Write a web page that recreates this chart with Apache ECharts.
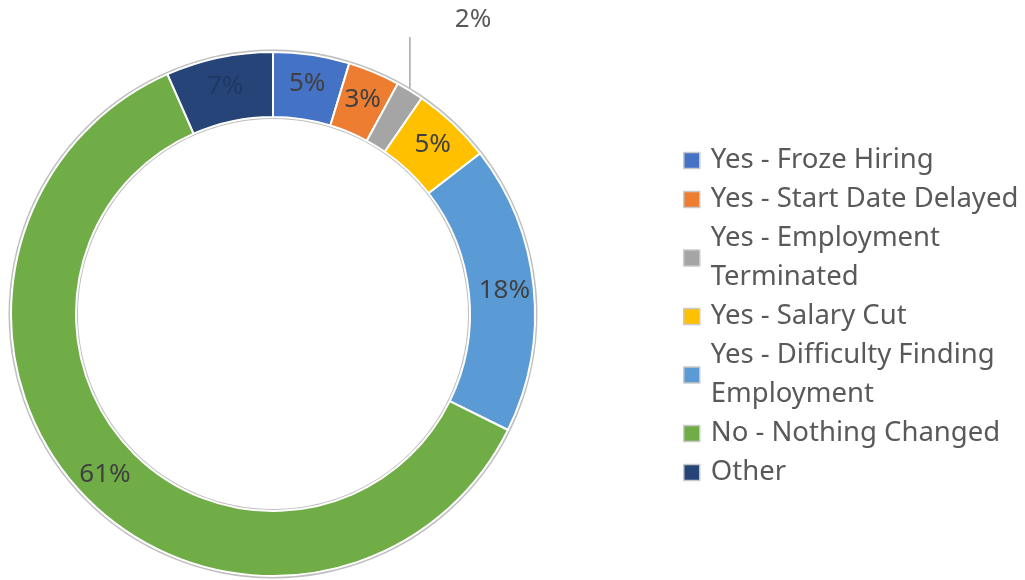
<!DOCTYPE html>
<html lang="en">
<head>
  <meta charset="UTF-8" />
  <title>Impact</title>
  <script src="https://cdn.jsdelivr.net/npm/echarts@6/dist/echarts.min.js"></script>
</head>
<body style="margin:0; background:#fff;">
  <div id="main" style="width:1025px; height:580px;"></div>
  <script type="text/javascript">
    // categories and shares (percent)
    const categories = [
      'Yes - Froze Hiring',
      'Yes - Start Date Delayed',
      'Yes - Employment Terminated',
      'Yes - Salary Cut',
      'Yes - Difficulty Finding Employment',
      'No - Nothing Changed',
      'Other'
    ];
    const shares = [4.7, 3.2, 1.7, 4.9, 17.8, 61.1, 6.6];
    const colors = ['#4472C4', '#ED7D31', '#A5A5A5', '#FFC000', '#5B9BD5', '#70AD47', '#264478'];
    // legend text with line breaks as in the picture
    const legendText = {
      'Yes - Employment Terminated': 'Yes - Employment\nTerminated',
      'Yes - Difficulty Finding Employment': 'Yes - Difficulty Finding\nEmployment'
    };

    const font = '"Noto Sans", "Open Sans", sans-serif';
    const chart = echarts.init(document.getElementById('main'));

    const data = categories.map(function (name, i) {
      const item = { name: name, value: shares[i], itemStyle: { color: colors[i] } };
      if (name === 'Other') item.label = { color: '#1f3864' };
      if (name === 'Yes - Employment Terminated') {
        item.label = { position: 'outside', color: '#595959' };
        item.labelLine = { show: true, lineStyle: { color: '#a6a6a6', width: 1.5 } };
      }
      return item;
    });

    chart.setOption({
      animation: false,
      color: colors,
      legend: {
        orient: 'vertical',
        left: 683,
        top: 141,
        padding: 0,
        itemGap: 0,
        itemWidth: 16,
        itemHeight: 16,
        icon: 'rect',
        itemStyle: { borderColor: '#c9c9c9', borderWidth: 1.5 },
        textStyle: {
          fontFamily: font,
          fontSize: 27.5,
          color: '#595959',
          lineHeight: 39,
          padding: [0, 0, 0, 6]
        },
        formatter: function (name) { return legendText[name] || name; },
        data: categories
      },
      series: [
        {
          // thin grey outline around the ring
          type: 'pie',
          silent: true,
          center: [273, 314],
          radius: [195, 264.5],
          label: { show: false },
          labelLine: { show: false },
          itemStyle: { color: '#bfbfbf' },
          data: [{ name: '_outline', value: 1 }],
          legendHoverLink: false
        },
        {
          type: 'pie',
          center: [273, 314],
          radius: [197, 262],
          startAngle: 90,
          clockwise: true,
          itemStyle: { borderColor: '#ffffff', borderWidth: 2 },
          label: {
            show: true,
            position: 'inside',
            fontFamily: font,
            fontSize: 26,
            color: '#404040',
            formatter: function (p) { return Math.round(p.value) + '%'; }
          },
          labelLine: { show: false },
          labelLayout: function (p) {
            if (p.dataIndex !== 2) return {};
            const x0 = p.labelLinePoints ? p.labelLinePoints[0][0] : 410;
            const y0 = p.labelLinePoints ? p.labelLinePoints[0][1] : 90;
            return {
              x: 473,
              y: 20,
              align: 'center',
              verticalAlign: 'middle',
              labelLinePoints: [[x0, y0], [x0, 37], [x0, 37]]
            };
          },
          data: data
        }
      ]
    });
  </script>
</body>
</html>
